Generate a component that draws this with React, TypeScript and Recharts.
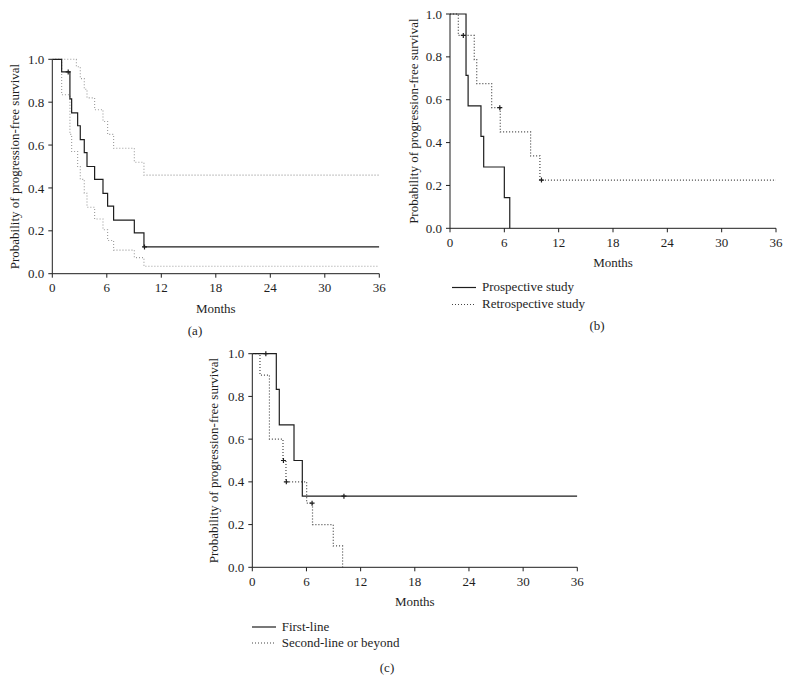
import React from 'react';
import { LineChart, Line, XAxis, YAxis } from 'recharts';

// Panel (a): all patients, with 95% confidence bands
const allMonths = [0, 1.03, 1.94, 2.13, 2.79, 3.08, 3.52, 3.82, 4.66, 5.58, 6.09, 6.75, 9.03, 10.09];
const allSurvival = [1, 0.941, 0.815, 0.75, 0.69, 0.625, 0.565, 0.5, 0.44, 0.375, 0.315, 0.25, 0.19, 0.125];
const allCensored = [1.75, 10.15];

const upperMonths = [0, 2.65, 3.08, 3.52, 3.82, 4.66, 5.58, 6.09, 6.75, 9.03, 10.09];
const upperSurvival = [1, 0.965, 0.91, 0.86, 0.82, 0.765, 0.71, 0.65, 0.585, 0.52, 0.46];

const lowerMonths = [0, 1.03, 1.94, 2.13, 2.79, 3.08, 3.52, 3.82, 4.66, 5.58, 6.09, 6.75, 9.03, 10.09];
const lowerSurvival = [1, 0.835, 0.65, 0.57, 0.5, 0.44, 0.375, 0.31, 0.255, 0.205, 0.155, 0.11, 0.075, 0.035];

// Panel (b): prospective vs retrospective
const prospMonths = [0, 1.77, 2.0, 3.42, 3.72, 6.0, 6.6];
const prospSurvival = [1, 0.714, 0.571, 0.429, 0.286, 0.143, 0];

const retroMonths = [0, 0.92, 2.68, 2.95, 4.6, 5.55, 8.9, 9.93];
const retroSurvival = [1, 0.9, 0.787, 0.675, 0.563, 0.45, 0.338, 0.225];
const retroCensored = [1.47, 5.5, 10.1];

// Panel (c): first-line vs second-line or beyond
const firstMonths = [0, 2.66, 2.99, 4.62, 5.54];
const firstSurvival = [1, 0.833, 0.667, 0.5, 0.333];
const firstCensored = [1.5, 10.15];

const secondMonths = [0, 0.85, 1.9, 3.4, 3.73, 6.02, 6.67, 8.97, 10.0];
const secondSurvival = [1, 0.9, 0.6, 0.5, 0.4, 0.3, 0.2, 0.1, 0];
const secondCensored = [3.45, 3.77, 6.62];

const monthTicks = [0, 6, 12, 18, 24, 30, 36];
const probTicks = [0, 0.2, 0.4, 0.6, 0.8, 1.0];

const FONT = '"Liberation Serif", "DejaVu Serif", serif';
const INK = '#1e1e1e';

type Row = { t: number; s: number; censor: boolean };

function buildCurve(months: number[], surv: number[], censored: number[], extendTo?: number): Row[] {
  const rows: Row[] = months.map((t, i) => ({ t, s: surv[i], censor: false }));
  censored.forEach((c) => {
    let s = surv[0];
    months.forEach((t, i) => {
      if (t <= c) s = surv[i];
    });
    rows.push({ t: c, s, censor: true });
  });
  rows.sort((a, b) => a.t - b.t);
  if (extendTo !== undefined) rows.push({ t: extendTo, s: rows[rows.length - 1].s, censor: false });
  return rows;
}

const censorDot = (name: string, color: string) => (props: any) => {
  const { cx, cy, payload, index } = props;
  if (!payload || !payload.censor) return <g key={`${name}-n-${index}`} />;
  return (
    <path
      key={`${name}-c-${index}`}
      d={`M${cx - 2.5},${cy}h5M${cx},${cy - 2.5}v5`}
      stroke={color}
      strokeWidth={1.2}
      fill="none"
    />
  );
};

const tickStyle = { fill: INK, fontSize: 13, fontFamily: FONT };

interface KMPanelProps {
  width: number;
  height: number;
  margin: { top: number; right: number; left: number; bottom: number };
  yAxisWidth: number;
  yLabelOffset: number;
  children: React.ReactNode;
}

const KMPanel = ({ width, height, margin, yAxisWidth, yLabelOffset, children }: KMPanelProps) => (
  <LineChart width={width} height={height} margin={margin}>
    <XAxis
      dataKey="t"
      type="number"
      domain={[0, 36]}
      ticks={monthTicks}
      height={40}
      tick={tickStyle}
      tickSize={4}
      tickMargin={5}
      stroke={INK}
      allowDataOverflow
      label={{ value: 'Months', position: 'insideBottom', offset: 1, fill: INK, fontSize: 13, fontFamily: FONT }}
    />
    <YAxis
      type="number"
      domain={[0, 1]}
      ticks={probTicks}
      width={yAxisWidth}
      tick={tickStyle}
      tickSize={4}
      tickMargin={4}
      stroke={INK}
      tickFormatter={(v: number) => v.toFixed(1)}
      label={{
        value: 'Probability of progression-free survival',
        angle: -90,
        position: 'insideLeft',
        offset: yLabelOffset,
        fill: INK,
        fontSize: 13,
        fontFamily: FONT,
        style: { textAnchor: 'middle' },
      }}
    />
    {children}
  </LineChart>
);

const LegendRow = ({ dashed, label, height }: { dashed: boolean; label: string; height: number }) => (
  <div style={{ display: 'flex', alignItems: 'center', height }}>
    <svg width={24} height={height} style={{ marginRight: 6 }}>
      <line
        x1={0}
        x2={24}
        y1={height / 2}
        y2={height / 2}
        stroke={dashed ? '#444' : INK}
        strokeWidth={1.2}
        strokeDasharray={dashed ? '1 2' : undefined}
      />
    </svg>
    <span>{label}</span>
  </div>
);

const Caption = ({ x, y, text }: { x: number; y: number; text: string }) => (
  <div style={{ position: 'absolute', left: x - 20, top: y - 8, width: 40, textAlign: 'center', lineHeight: '16px' }}>
    {text}
  </div>
);

export default function App() {
  const allCurve = buildCurve(allMonths, allSurvival, allCensored, 36);
  const upperCurve = buildCurve(upperMonths, upperSurvival, [], 36);
  const lowerCurve = buildCurve(lowerMonths, lowerSurvival, [], 36);
  const prospCurve = buildCurve(prospMonths, prospSurvival, []);
  const retroCurve = buildCurve(retroMonths, retroSurvival, retroCensored, 36);
  const firstCurve = buildCurve(firstMonths, firstSurvival, firstCensored, 36);
  const secondCurve = buildCurve(secondMonths, secondSurvival, secondCensored);

  return (
    <div
      style={{
        position: 'absolute',
        left: 0,
        top: 0,
        width: 790,
        height: 683,
        background: '#fff',
        fontFamily: FONT,
        fontSize: 13,
        color: INK,
      }}
    >
      <div style={{ position: 'absolute', left: 0, top: 0 }}>
        <KMPanel width={390} height={340} margin={{ top: 59.3, right: 10.7, left: 0, bottom: 26.3 }} yAxisWidth={52.3} yLabelOffset={14}>
          <Line data={upperCurve} dataKey="s" type="stepAfter" stroke="#9a9a9a" strokeWidth={1.1} strokeDasharray="1 2" dot={false} activeDot={false} isAnimationActive={false} />
          <Line data={lowerCurve} dataKey="s" type="stepAfter" stroke="#9a9a9a" strokeWidth={1.1} strokeDasharray="1 2" dot={false} activeDot={false} isAnimationActive={false} />
          <Line data={allCurve} dataKey="s" type="stepAfter" stroke={INK} strokeWidth={1.2} dot={censorDot('all', INK)} activeDot={false} isAnimationActive={false} />
        </KMPanel>
      </div>
      <Caption x={195} y={331} text="(a)" />

      <div style={{ position: 'absolute', left: 400, top: 0 }}>
        <KMPanel width={390} height={340} margin={{ top: 14, right: 14, left: 0, bottom: 71.7 }} yAxisWidth={50} yLabelOffset={13.3}>
          <Line data={retroCurve} dataKey="s" type="stepAfter" stroke="#444" strokeWidth={1.2} strokeDasharray="1 2" dot={censorDot('retro', INK)} activeDot={false} isAnimationActive={false} />
          <Line data={prospCurve} dataKey="s" type="stepAfter" stroke={INK} strokeWidth={1.2} dot={false} activeDot={false} isAnimationActive={false} />
        </KMPanel>
      </div>
      <div style={{ position: 'absolute', left: 452, top: 278.5 }}>
        <LegendRow dashed={false} label="Prospective study" height={17} />
        <LegendRow dashed label="Retrospective study" height={17} />
      </div>
      <Caption x={597} y={326} text="(b)" />

      <div style={{ position: 'absolute', left: 190, top: 340 }}>
        <KMPanel width={400} height={343} margin={{ top: 13.7, right: 12.7, left: 0, bottom: 75.7 }} yAxisWidth={62.3} yLabelOffset={23.3}>
          <Line data={secondCurve} dataKey="s" type="stepAfter" stroke="#444" strokeWidth={1.2} strokeDasharray="1 2" dot={censorDot('second', INK)} activeDot={false} isAnimationActive={false} />
          <Line data={firstCurve} dataKey="s" type="stepAfter" stroke={INK} strokeWidth={1.2} dot={censorDot('first', INK)} activeDot={false} isAnimationActive={false} />
        </KMPanel>
      </div>
      <div style={{ position: 'absolute', left: 251.7, top: 619 }}>
        <LegendRow dashed={false} label="First-line" height={16} />
        <LegendRow dashed label="Second-line or beyond" height={16} />
      </div>
      <Caption x={387} y={668} text="(c)" />
    </div>
  );
}
